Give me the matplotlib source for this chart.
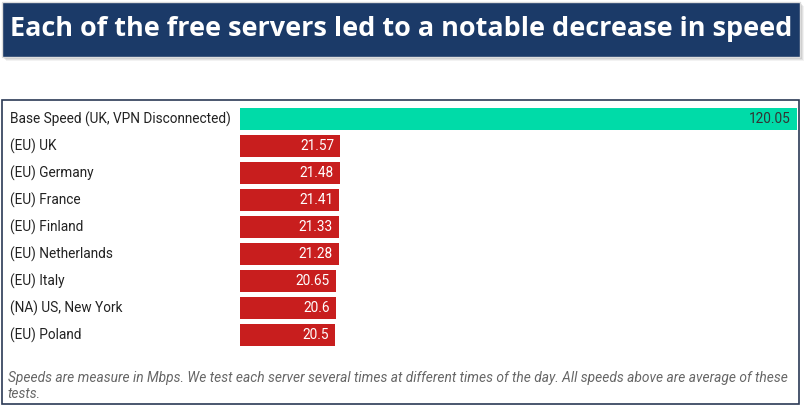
import matplotlib
matplotlib.use("Agg")
import matplotlib.pyplot as plt
import matplotlib.transforms as mtransforms
from matplotlib.patches import Rectangle

# --- data ---------------------------------------------------------------------
TITLE = "Each of the free servers led to a notable decrease in speed"
SERVERS = ["Base Speed (UK, VPN Disconnected)", "(EU) UK", "(EU) Germany", "(EU) France",
           "(EU) Finland", "(EU) Netherlands", "(EU) Italy", "(NA) US, New York", "(EU) Poland"]
SPEEDS = [120.05, 21.57, 21.48, 21.41, 21.33, 21.28, 20.65, 20.6, 20.5]
SPEED_LABELS = ["120.05", "21.57", "21.48", "21.41", "21.33", "21.28", "20.65", "20.6", "20.5"]
NOTE = ("Speeds are measure in Mbps. We test each server several times at different times of the day. "
        "All speeds above are average of these\ntests.")

# --- style --------------------------------------------------------------------
W, H = 806, 407
NAVY = "#1b3a68"
GREEN = "#00dba8"
RED = "#c81e1e"
plt.rcParams["font.family"] = ["Roboto", "DejaVu Sans"]

fig = plt.figure(figsize=(W / 100, H / 100), dpi=100)
fig.patch.set_facecolor("white")

def fx(px):
    return px / W

def fy(py):
    return 1 - py / H

# title banner with a soft shadow
for off, a in [(4, 0.10), (3, 0.15), (2, 0.2)]:
    fig.patches.append(Rectangle((fx(2 + off), fy(57 + off)), fx(798), 55 / H,
                                 transform=fig.transFigure, facecolor="grey",
                                 alpha=a, edgecolor="none", zorder=0))
fig.patches.append(Rectangle((fx(2), fy(57)), fx(798), 55 / H, transform=fig.transFigure,
                             facecolor=NAVY, edgecolor="#dddddd", linewidth=1, zorder=1))
title = fig.text(fx(401), fy(29), TITLE, color="white", ha="center", va="center",
                 fontsize=22, fontweight="bold", family=["Open Sans", "DejaVu Sans"], zorder=2)
fig.canvas.draw()
tw = title.get_window_extent().width
title.set_fontsize(22 * 780 / tw)

# chart frame
fig.patches.append(Rectangle((fx(2), fy(404)), fx(797), 304 / H, transform=fig.transFigure,
                             facecolor="white", edgecolor="#2b3a55", linewidth=1.2, zorder=0))

# bars
row_h = 27
top = 119 - row_h / 2
n = len(SERVERS)
ax = fig.add_axes([fx(240), fy(top + n * row_h), fx(557), n * row_h / H])
ax.set_zorder(5)
ax.set_facecolor("none")
colors = [GREEN] + [RED] * (n - 1)
ax.barh(range(n), SPEEDS, height=22 / row_h, color=colors, edgecolor="none")
ax.set_xlim(0, SPEEDS[0])
ax.set_ylim(n - 0.5, -0.5)
ax.axis("off")

blend = mtransforms.blended_transform_factory(fig.transFigure, ax.transData)
pad = mtransforms.offset_copy(ax.transData, fig=fig, x=-6, y=0, units="dots")
for i, (name, v, lab) in enumerate(zip(SERVERS, SPEEDS, SPEED_LABELS)):
    ax.text(fx(10), i, name, transform=blend, ha="left", va="center",
            fontsize=9.8, color="#222222", clip_on=False)
    ax.text(v, i, lab, transform=pad, ha="right", va="center", fontsize=9.8,
            color="#333333" if i == 0 else "white")

note = fig.text(fx(8), fy(386), NOTE, ha="left", va="center", fontsize=9.9, style="italic",
                color="#666666", linespacing=1.2, zorder=6)

fig.savefig("out.png", dpi=100, facecolor="white")
